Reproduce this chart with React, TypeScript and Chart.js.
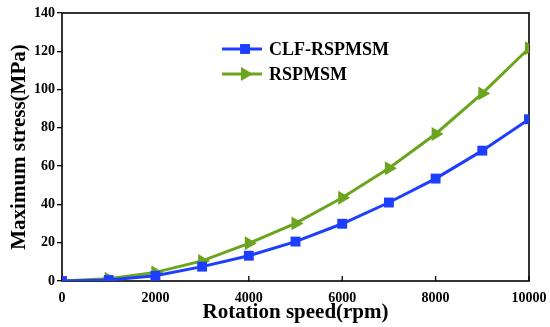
import React, { useEffect, useRef } from "react";
import { Chart, registerables } from "chart.js";

Chart.register(...registerables);

const speeds = [0, 1000, 2000, 3000, 4000, 5000, 6000, 7000, 8000, 9000, 10000];
const clfStress = [0, 0.5, 2.7, 7.5, 13.2, 20.6, 29.9, 41, 53.5, 68.1, 84.5];
const rspStress = [0, 1.2, 4.5, 10.5, 19.7, 30.1, 43.5, 58.9, 76.8, 98, 121.6];
const seriesNames = ["CLF-RSPMSM", "RSPMSM"];
const xTicks = [0, 2000, 4000, 6000, 8000, 10000];
const yTicks = [0, 20, 40, 60, 80, 100, 120, 140];

const BLUE = "rgb(30,62,255)";
const GREEN = "rgb(107,165,30)";
const FONT = "'Liberation Serif', 'Times New Roman', serif";

const framePlugin = {
  id: "frame",
  beforeDatasetsDraw(chart: any) {
    const { ctx, chartArea } = chart;
    const { left, right, top, bottom } = chartArea;
    ctx.save();
    ctx.strokeStyle = "#000";
    ctx.lineWidth = 1.6;
    ctx.strokeRect(left, top, right - left, bottom - top);
    const xs = chart.scales.x;
    ctx.lineWidth = 1.3;
    for (const v of xTicks) {
      const px = xs.getPixelForValue(v);
      ctx.beginPath();
      ctx.moveTo(px, bottom);
      ctx.lineTo(px, bottom - 5);
      ctx.stroke();
    }
    ctx.restore();
  },
};

function drawMarker(ctx: CanvasRenderingContext2D, style: string, r: number, rot: number, x: number, y: number) {
  ctx.beginPath();
  if (style === "rect") {
    const s = Math.SQRT1_2 * r;
    ctx.rect(x - s, y - s, 2 * s, 2 * s);
  } else {
    let rad = (rot * Math.PI) / 180;
    ctx.moveTo(x + Math.sin(rad) * r, y - Math.cos(rad) * r);
    rad += (2 * Math.PI) / 3;
    ctx.lineTo(x + Math.sin(rad) * r, y - Math.cos(rad) * r);
    rad += (2 * Math.PI) / 3;
    ctx.lineTo(x + Math.sin(rad) * r, y - Math.cos(rad) * r);
    ctx.closePath();
  }
  ctx.fill();
}

const legendPlugin = {
  id: "customLegend",
  afterDraw(chart: any) {
    const { ctx } = chart;
    const items = [
      { y: 49, ds: chart.data.datasets[0] },
      { y: 74, ds: chart.data.datasets[1] },
    ];
    ctx.save();
    for (const it of items) {
      const ds = it.ds;
      ctx.strokeStyle = ds.borderColor;
      ctx.lineWidth = 3;
      ctx.beginPath();
      ctx.moveTo(222, it.y);
      ctx.lineTo(262, it.y);
      ctx.stroke();
      ctx.fillStyle = ds.pointBackgroundColor;
      drawMarker(ctx, ds.pointStyle, ds.pointRadius, ds.pointRotation, 245, it.y);
      ctx.fillStyle = "#000";
      ctx.font = `bold 18px ${FONT}`;
      ctx.textBaseline = "middle";
      ctx.textAlign = "left";
      ctx.fillText(ds.label, 269, it.y + 1);
    }
    ctx.restore();
  },
};

export default function App() {
  const ref = useRef<HTMLCanvasElement>(null);
  useEffect(() => {
    document.body.style.margin = "0";
    const canvas = ref.current!;
    const chart = new Chart(canvas, {
      type: "line",
      data: {
        datasets: [
          {
            label: seriesNames[0],
            data: speeds.map((s, i) => ({ x: s, y: clfStress[i] })),
            borderColor: BLUE,
            backgroundColor: BLUE,
            pointBackgroundColor: BLUE,
            pointBorderColor: BLUE,
            borderWidth: 3,
            pointStyle: "rect",
            pointRadius: 7,
            pointRotation: 0,
            pointBorderWidth: 0,
            clip: 0,
          } as any,
          {
            label: seriesNames[1],
            data: speeds.map((s, i) => ({ x: s, y: rspStress[i] })),
            borderColor: GREEN,
            backgroundColor: GREEN,
            pointBackgroundColor: GREEN,
            pointBorderColor: GREEN,
            borderWidth: 3,
            pointStyle: "triangle",
            pointRadius: 8,
            pointRotation: 90,
            pointBorderWidth: 0,
            clip: 0,
          } as any,
        ],
      },
      options: {
        animation: false,
        responsive: false,
        layout: { padding: { top: 13, right: 21, left: 0, bottom: 0 } },
        plugins: { legend: { display: false }, tooltip: { enabled: false } },
        scales: {
          x: {
            type: "linear",
            min: 0,
            max: 10000,
            afterBuildTicks: (s: any) => {
              s.ticks = xTicks.map((v) => ({ value: v }));
            },
            afterFit: (s: any) => {
              s.height = 46;
              s.paddingRight = 0;
              s.paddingLeft = 0;
            },
            grid: { display: false, drawTicks: false },
            border: { display: false },
            ticks: {
              color: "#000",
              padding: 9,
              maxRotation: 0,
              callback: (v: any) => String(v),
              font: { family: FONT, weight: "bold", size: 14 },
            },
            title: {
              display: true,
              text: "Rotation speed(rpm)",
              color: "#000",
              padding: { top: 0, bottom: 2 },
              font: { family: FONT, weight: "bold", size: 21 },
            },
          },
          y: {
            type: "linear",
            min: 0,
            max: 140,
            afterBuildTicks: (s: any) => {
              s.ticks = yTicks.map((v) => ({ value: v }));
            },
            afterFit: (s: any) => {
              s.width = 62;
            },
            grid: { drawOnChartArea: false, drawTicks: true, tickLength: 5, color: "#000", lineWidth: 1.3 },
            border: { display: false },
            ticks: {
              color: "#000",
              padding: 2,
              callback: (v: any) => String(v),
              font: { family: FONT, weight: "bold", size: 14 },
            },
            title: {
              display: true,
              text: "Maximum stress(MPa)",
              color: "#000",
              padding: { top: 7, bottom: 0 },
              font: { family: FONT, weight: "bold", size: 21 },
            },
          },
        },
      } as any,
      plugins: [framePlugin, legendPlugin],
    });
    return () => chart.destroy();
  }, []);
  return <canvas ref={ref} width={550} height={327} style={{ display: "block", width: 550, height: 327 }} />;
}
